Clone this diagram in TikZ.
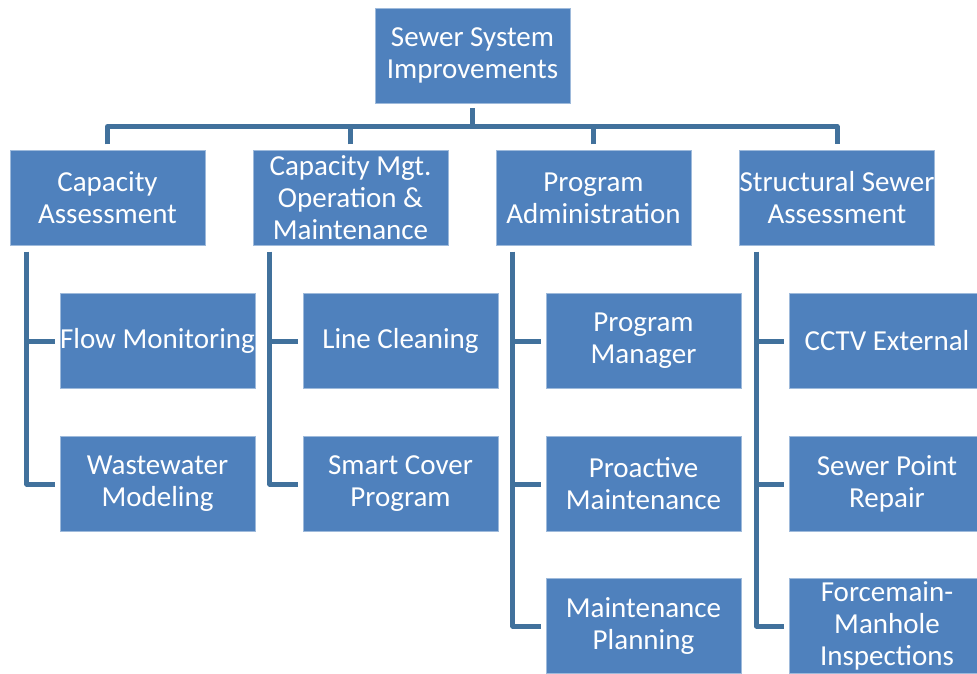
\documentclass[tikz,border=0pt]{standalone}
\usepackage{fontspec}
\setmainfont{Carlito}
\definecolor{boxblue}{HTML}{4F81BD}
\definecolor{linkblue}{HTML}{41719C}
\tikzset{
unit/.style={draw=boxblue!55!white,fill=boxblue,text=white,minimum width=195pt,minimum height=95pt,inner sep=0pt,align=center,font=\fontsize{29}{32}\selectfont},
link/.style={draw=linkblue,line width=5pt,line join=round}
}

\begin{document}
\begin{tikzpicture}[x=1pt,y=-1pt]
\useasboundingbox (0,0) rectangle (977,673);

\node[unit] (top) at (472.5,55.5) {Sewer System\\Improvements};

\node[unit] (g1) at (107.5,198) {Capacity\\Assessment};
\node[unit] (g2) at (350.5,198) {Capacity Mgt.\\Operation \&\\Maintenance};
\node[unit] (g3) at (593.5,198) {Program\\Administration};
\node[unit] (g4) at (837,198) {Structural Sewer\\Assessment};

\foreach \g/\n/\x/\y/\t in {1/1/157.5/341/Flow Monitoring,1/2/157.5/484/{Wastewater\\Modeling},
2/1/400.5/341/Line Cleaning,2/2/400.5/484/{Smart Cover\\Program},
3/1/643.5/341/{Program\\Manager},3/2/643.5/484/{Proactive\\Maintenance},3/3/643.5/626/{Maintenance\\Planning},
4/1/887/341/CCTV External,4/2/887/484/{Sewer Point\\Repair},4/3/887/626/{Forcemain-\\Manhole\\Inspections}}{
\node[unit] (c\g\n) at (\x,\y) {\t};
}

\coordinate (bar) at (472.5,126.5);
\draw[link] ([yshift=-5pt]top.south) -- (bar);
\draw[link] ([yshift=6pt]g1.north) |- (bar) -| ([yshift=6pt]g4.north);
\foreach \g in {2,3}{
\draw[link] ([yshift=6pt]g\g.north) -- (g\g.north |- bar);
}

\foreach \g/\k in {1/2,2/2,3/3,4/3}{
\coordinate (v\g) at ([xshift=17pt,yshift=-6pt]g\g.south west);
\draw[link] (v\g) |- ([xshift=-5pt]c\g\k.west);
\foreach \n in {1,...,\k}{
\draw[link] (v\g |- c\g\n.west) -- ([xshift=-5pt]c\g\n.west);
}
}
\end{tikzpicture}
\end{document}
